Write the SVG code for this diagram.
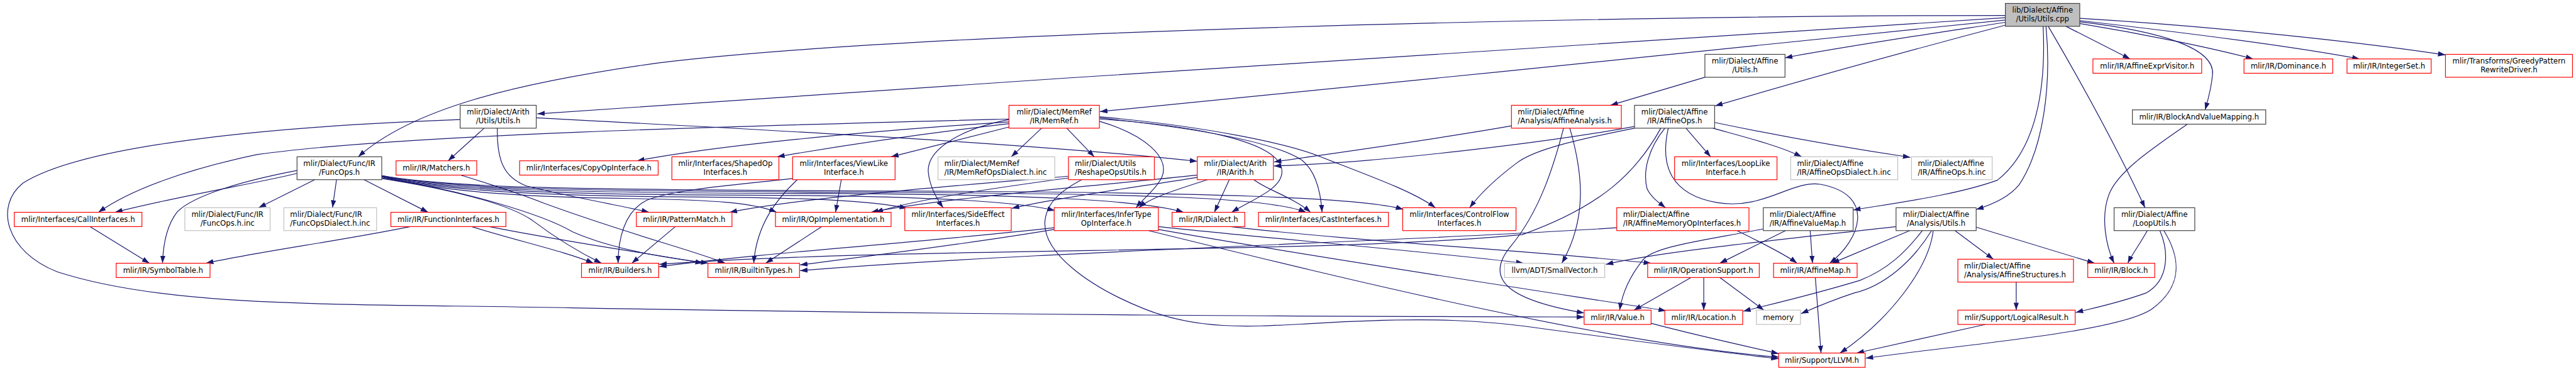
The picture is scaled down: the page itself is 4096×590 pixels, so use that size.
<svg xmlns="http://www.w3.org/2000/svg" width="4096" height="590" viewBox="0 0 4096 590">
<style>
.nd rect{fill:#fff;stroke-width:1.3}
.b rect{stroke:#404040}
.r rect{stroke:#ff0000}
.g rect{stroke:#bfbfbf}
.root rect{fill:#bfbfbf;stroke:#404040}
text{font-family:"DejaVu Sans",sans-serif;font-size:12.9px;fill:#000}
.c{text-anchor:middle}
#edges path{fill:none;stroke:#191970;stroke-width:1.3;marker-end:url(#a)}
</style>
<defs><marker id="a" markerUnits="userSpaceOnUse" markerWidth="14" markerHeight="10" refX="13" refY="5" orient="auto"><path d="M0,0.5 L13,5 L0,9.5 z" fill="#191970"/></marker></defs>
<rect width="4096" height="590" fill="#fff"/>
<g transform="scale(0.91)">
<g id="edges">
<path d="M3504,27 C2800,27 1600,55 1150,110 C900,145 720,190 626,274"/>
<path d="M3504,31 C3000,60 1800,140 939,199"/>
<path d="M3504,35 C3100,75 2400,150 1922,195"/>
<path d="M3504,39 C3380,58 3230,80 3119,101"/>
<path d="M3504,44 C3330,90 3150,140 2997,185"/>
<path d="M3610,46 L3722,103"/>
<path d="M3634,41 C3750,60 3870,85 3937,103"/>
<path d="M3634,36 C3800,55 4000,80 4123,103"/>
<path d="M3634,32 C3850,45 4100,70 4273,96"/>
<path d="M3634,38 C3780,55 3870,85 3866,130 C3864,155 3858,175 3853,192"/>
<path d="M3579,46 C3640,150 3700,260 3748,363"/>
<path d="M3570,46 C3575,150 3560,260 3490,315 C3420,340 3330,352 3238,367"/>
<path d="M3575,46 C3585,150 3570,260 3528,323 C3510,345 3480,358 3453,366"/>
<path d="M2979,135 L2814,184"/>
<path d="M2641,220 C2500,245 2300,272 2226,283"/>
<path d="M2732,224 C2715,290 2690,370 2640,430 C2590,490 2640,525 2768,547"/>
<path d="M2743,224 C2765,300 2775,380 2729,460"/>
<path d="M2856,221 C2700,250 2400,285 2226,290"/>
<path d="M2856,224 C2750,245 2680,262 2650,285 C2610,315 2585,340 2568,363"/>
<path d="M2902,224 C2860,300 2800,360 2660,410 C2300,445 1600,430 1152,462"/>
<path d="M2909,224 C2880,260 2870,300 2878,330 C2885,345 2900,355 2910,363"/>
<path d="M2915,224 C2900,290 2920,340 3000,354 C3080,368 3130,315 3180,322 C3280,340 3250,420 3197,460"/>
<path d="M2946,224 L2989,274"/>
<path d="M2993,224 C3050,240 3110,255 3148,274"/>
<path d="M2996,214 C3120,240 3250,262 3338,275"/>
<path d="M846,224 L783,281"/>
<path d="M869,224 C868,280 880,310 920,325 C1000,345 1080,358 1134,371"/>
<path d="M937,206 C1300,225 1800,250 2092,282"/>
<path d="M804,209 C500,220 150,250 40,320 C-10,360 10,440 100,475 C300,540 600,530 1000,538 C1800,552 2400,553 2768,554"/>
<path d="M1763,208 C1300,220 700,235 450,270 C330,295 230,330 172,371"/>
<path d="M1763,213 C1500,230 1250,255 1113,281"/>
<path d="M1763,216 C1600,235 1450,258 1358,274"/>
<path d="M1763,222 L1557,274"/>
<path d="M1763,209 C1680,225 1620,260 1622,300 C1624,325 1635,345 1648,363"/>
<path d="M1820,224 L1767,274"/>
<path d="M1864,224 L1912,274"/>
<path d="M1921,212 C2000,235 2045,275 2030,310 C2020,330 2000,345 1985,363"/>
<path d="M1921,208 C2100,220 2240,250 2240,300 C2240,330 2190,348 2152,371"/>
<path d="M1921,206 C2100,225 2230,250 2275,280 C2300,300 2308,340 2310,371"/>
<path d="M1921,204 C2100,220 2250,250 2310,275 C2400,310 2470,335 2508,363"/>
<path d="M519,303 C450,320 300,345 201,371"/>
<path d="M519,298 C430,315 340,340 310,370 C290,395 285,430 284,460"/>
<path d="M550,314 L452,363"/>
<path d="M588,314 L581,363"/>
<path d="M636,314 L748,371"/>
<path d="M667,312 C750,325 880,350 930,385 C970,415 1010,440 1051,460"/>
<path d="M667,311 C800,330 950,375 1000,405 C1080,440 1180,452 1238,460"/>
<path d="M667,309 C780,338 950,345 1100,347 C1250,349 1320,355 1357,371"/>
<path d="M667,309 C780,336 1000,343 1200,344 C1400,345 1520,350 1585,364"/>
<path d="M667,308 C780,334 1000,340 1300,341 C1600,342 1780,352 1843,368"/>
<path d="M667,308 C780,332 1000,337 1400,338 C1800,339 2000,350 2068,371"/>
<path d="M667,307 C780,330 1000,334 1500,336 C2000,338 2220,345 2282,371"/>
<path d="M667,307 C780,328 1000,332 1600,334 C2100,336 2380,345 2452,366"/>
<path d="M157,396 L261,460"/>
<path d="M717,396 C600,420 450,440 360,460"/>
<path d="M824,396 C900,420 990,440 1037,460"/>
<path d="M855,396 C1000,425 1150,445 1228,460"/>
<path d="M805,306 C850,320 900,335 950,355 C1100,410 1220,440 1267,460"/>
<path d="M1180,396 L1104,460"/>
<path d="M1436,396 L1338,460"/>
<path d="M1393,314 C1360,345 1322,390 1317,460"/>
<path d="M1470,314 L1460,371"/>
<path d="M1385,312 C1300,322 1180,330 1130,350 C1090,370 1080,420 1080,460"/>
<path d="M1867,308 C1700,322 1400,345 1275,371"/>
<path d="M1867,311 C1750,327 1600,348 1530,371"/>
<path d="M1890,314 C1860,330 1830,350 1826,385 C1820,440 1900,500 2000,540 C2100,580 2200,570 2300,565 C2500,553 2600,560 2700,575 C2850,595 3000,615 3108,627"/>
<path d="M2092,306 C1950,322 1650,345 1522,371"/>
<path d="M2092,310 C2000,325 1850,345 1768,364"/>
<path d="M2110,314 C2060,330 2010,345 1990,363"/>
<path d="M2148,314 L2122,371"/>
<path d="M2191,314 C2210,330 2260,345 2290,371"/>
<path d="M1842,398 C1600,425 1350,440 1152,466"/>
<path d="M1842,401 C1700,425 1500,450 1398,463"/>
<path d="M2825,398 C2500,420 1800,440 1398,473"/>
<path d="M2024,396 C2200,415 2500,440 2662,460"/>
<path d="M2024,401 C2300,450 2700,510 2911,543"/>
<path d="M2007,403 C2300,475 2800,600 3108,624"/>
<path d="M2150,396 C2350,420 2700,440 2885,460"/>
<path d="M3035,403 C3080,425 3120,445 3140,460"/>
<path d="M3081,400 C2980,420 2890,430 2870,455 C2850,480 2835,510 2830,542"/>
<path d="M3120,403 L3005,460"/>
<path d="M3163,403 L3167,460"/>
<path d="M3313,396 C3100,420 2900,440 2806,462"/>
<path d="M3337,403 L3201,460"/>
<path d="M3359,403 C3330,440 3300,470 3250,490 C3150,520 3080,535 3046,544"/>
<path d="M3375,403 C3340,460 3290,500 3240,512 C3200,525 3170,538 3147,548"/>
<path d="M3378,403 C3370,470 3300,560 3215,617"/>
<path d="M3416,403 L3483,453"/>
<path d="M3453,397 L3660,460"/>
<path d="M3523,493 L3523,542"/>
<path d="M3469,567 L3244,617"/>
<path d="M3172,485 L3182,617"/>
<path d="M2885,565 C2960,585 3050,605 3108,618"/>
<path d="M2955,485 L2855,542"/>
<path d="M2977,485 L2977,542"/>
<path d="M3005,485 L3082,542"/>
<path d="M3752,403 C3740,425 3725,445 3718,460"/>
<path d="M3774,403 C3790,440 3790,490 3750,512 C3700,530 3660,538 3627,546"/>
<path d="M3781,403 C3810,450 3815,500 3760,540 C3700,580 3450,600 3260,626"/>
<path d="M3822,217 C3760,260 3700,300 3685,340 C3670,380 3680,430 3694,460"/>
</g>
<g id="n_root" class="nd root"><rect x="3504" y="6" width="130" height="40"/><text class="c" x="3569" y="22.5">lib/Dialect/Affine</text><text class="c" x="3569" y="37.5">/Utils/Utils.cpp</text></g>
<g id="n_affUtils" class="nd b"><rect x="2979" y="95" width="140" height="40"/><text class="c" x="3049" y="111.5">mlir/Dialect/Affine</text><text class="c" x="3049" y="126.5">/Utils.h</text></g>
<g id="n_exprVis" class="nd r"><rect x="3657" y="103" width="190" height="25"/><text class="c" x="3752" y="120">mlir/IR/AffineExprVisitor.h</text></g>
<g id="n_dominance" class="nd r"><rect x="3921" y="103" width="155" height="25"/><text class="c" x="3998.5" y="120">mlir/IR/Dominance.h</text></g>
<g id="n_intset" class="nd r"><rect x="4101" y="103" width="147" height="25"/><text class="c" x="4174.5" y="120">mlir/IR/IntegerSet.h</text></g>
<g id="n_greedy" class="nd r"><rect x="4273" y="95" width="222" height="40"/><text class="c" x="4384" y="111.5">mlir/Transforms/GreedyPattern</text><text class="c" x="4384" y="126.5">RewriteDriver.h</text></g>
<g id="n_arithUtils" class="nd b"><rect x="804" y="184" width="133" height="40"/><text class="c" x="870.5" y="200.5">mlir/Dialect/Arith</text><text class="c" x="870.5" y="215.5">/Utils/Utils.h</text></g>
<g id="n_memref" class="nd r"><rect x="1763" y="184" width="158" height="40"/><text class="c" x="1842" y="200.5">mlir/Dialect/MemRef</text><text class="c" x="1842" y="215.5">/IR/MemRef.h</text></g>
<g id="n_affAnalysis" class="nd r"><rect x="2641" y="184" width="192" height="40"/><text x="2652" y="200.5">mlir/Dialect/Affine</text><text x="2652" y="215.5">/Analysis/AffineAnalysis.h</text></g>
<g id="n_affOps" class="nd b"><rect x="2856" y="184" width="140" height="40"/><text class="c" x="2926" y="200.5">mlir/Dialect/Affine</text><text class="c" x="2926" y="215.5">/IR/AffineOps.h</text></g>
<g id="n_bvm" class="nd b"><rect x="3726" y="192" width="233" height="25"/><text class="c" x="3842.5" y="209">mlir/IR/BlockAndValueMapping.h</text></g>
<g id="n_funcOps" class="nd b"><rect x="519" y="274" width="148" height="40"/><text class="c" x="593" y="290.5">mlir/Dialect/Func/IR</text><text class="c" x="593" y="305.5">/FuncOps.h</text></g>
<g id="n_matchers" class="nd r"><rect x="692" y="281" width="141" height="25"/><text class="c" x="762.5" y="298">mlir/IR/Matchers.h</text></g>
<g id="n_copyOp" class="nd r"><rect x="908" y="281" width="242" height="25"/><text class="c" x="1029" y="298">mlir/Interfaces/CopyOpInterface.h</text></g>
<g id="n_shapedOp" class="nd r"><rect x="1174" y="274" width="187" height="40"/><text class="c" x="1267.5" y="290.5">mlir/Interfaces/ShapedOp</text><text class="c" x="1267.5" y="305.5">Interfaces.h</text></g>
<g id="n_viewLike" class="nd r"><rect x="1385" y="274" width="179" height="40"/><text class="c" x="1474.5" y="290.5">mlir/Interfaces/ViewLike</text><text class="c" x="1474.5" y="305.5">Interface.h</text></g>
<g id="n_memrefDialectInc" class="nd g"><rect x="1639" y="274" width="204" height="40"/><text x="1650" y="290.5">mlir/Dialect/MemRef</text><text x="1650" y="305.5">/IR/MemRefOpsDialect.h.inc</text></g>
<g id="n_reshape" class="nd r"><rect x="1867" y="274" width="150" height="40"/><text x="1878" y="290.5">mlir/Dialect/Utils</text><text x="1878" y="305.5">/ReshapeOpsUtils.h</text></g>
<g id="n_arith" class="nd r"><rect x="2092" y="274" width="133" height="40"/><text class="c" x="2158.5" y="290.5">mlir/Dialect/Arith</text><text class="c" x="2158.5" y="305.5">/IR/Arith.h</text></g>
<g id="n_loopLike" class="nd r"><rect x="2926" y="274" width="179" height="40"/><text class="c" x="3015.5" y="290.5">mlir/Interfaces/LoopLike</text><text class="c" x="3015.5" y="305.5">Interface.h</text></g>
<g id="n_affDialectInc" class="nd g"><rect x="3129" y="274" width="187" height="40"/><text x="3140" y="290.5">mlir/Dialect/Affine</text><text x="3140" y="305.5">/IR/AffineOpsDialect.h.inc</text></g>
<g id="n_affOpsInc" class="nd g"><rect x="3340" y="274" width="141" height="40"/><text x="3351" y="290.5">mlir/Dialect/Affine</text><text x="3351" y="305.5">/IR/AffineOps.h.inc</text></g>
<g id="n_callIf" class="nd r"><rect x="25" y="371" width="223" height="25"/><text class="c" x="136.5" y="388">mlir/Interfaces/CallInterfaces.h</text></g>
<g id="n_funcOpsInc" class="nd g"><rect x="323" y="363" width="149" height="40"/><text class="c" x="397.5" y="379.5">mlir/Dialect/Func/IR</text><text class="c" x="397.5" y="394.5">/FuncOps.h.inc</text></g>
<g id="n_funcDialectInc" class="nd g"><rect x="496" y="363" width="162" height="40"/><text x="507" y="379.5">mlir/Dialect/Func/IR</text><text x="507" y="394.5">/FuncOpsDialect.h.inc</text></g>
<g id="n_funcIf" class="nd r"><rect x="683" y="371" width="201" height="25"/><text class="c" x="783.5" y="388">mlir/IR/FunctionInterfaces.h</text></g>
<g id="n_patternMatch" class="nd r"><rect x="1112" y="371" width="167" height="25"/><text class="c" x="1195.5" y="388">mlir/IR/PatternMatch.h</text></g>
<g id="n_opImpl" class="nd r"><rect x="1355" y="371" width="202" height="25"/><text class="c" x="1456" y="388">mlir/IR/OpImplementation.h</text></g>
<g id="n_sideEffect" class="nd r"><rect x="1581" y="363" width="186" height="40"/><text class="c" x="1674" y="379.5">mlir/Interfaces/SideEffect</text><text class="c" x="1674" y="394.5">Interfaces.h</text></g>
<g id="n_inferType" class="nd r"><rect x="1842" y="363" width="182" height="40"/><text class="c" x="1933" y="379.5">mlir/Interfaces/InferType</text><text class="c" x="1933" y="394.5">OpInterface.h</text></g>
<g id="n_dialect" class="nd r"><rect x="2048" y="371" width="127" height="25"/><text class="c" x="2111.5" y="388">mlir/IR/Dialect.h</text></g>
<g id="n_castIf" class="nd r"><rect x="2199" y="371" width="227" height="25"/><text class="c" x="2312.5" y="388">mlir/Interfaces/CastInterfaces.h</text></g>
<g id="n_controlFlow" class="nd r"><rect x="2451" y="363" width="198" height="40"/><text class="c" x="2550" y="379.5">mlir/Interfaces/ControlFlow</text><text class="c" x="2550" y="394.5">Interfaces.h</text></g>
<g id="n_affMemOp" class="nd r"><rect x="2825" y="363" width="231" height="40"/><text x="2836" y="379.5">mlir/Dialect/Affine</text><text x="2836" y="394.5">/IR/AffineMemoryOpInterfaces.h</text></g>
<g id="n_affValueMap" class="nd b"><rect x="3081" y="363" width="157" height="40"/><text x="3092" y="379.5">mlir/Dialect/Affine</text><text x="3092" y="394.5">/IR/AffineValueMap.h</text></g>
<g id="n_anaUtils" class="nd b"><rect x="3313" y="363" width="140" height="40"/><text class="c" x="3383" y="379.5">mlir/Dialect/Affine</text><text class="c" x="3383" y="394.5">/Analysis/Utils.h</text></g>
<g id="n_loopUtils" class="nd b"><rect x="3694" y="363" width="141" height="40"/><text class="c" x="3764.5" y="379.5">mlir/Dialect/Affine</text><text class="c" x="3764.5" y="394.5">/LoopUtils.h</text></g>
<g id="n_symbolTable" class="nd r"><rect x="203" y="460" width="164" height="25"/><text class="c" x="285" y="477">mlir/IR/SymbolTable.h</text></g>
<g id="n_builders" class="nd r"><rect x="1016" y="460" width="135" height="25"/><text class="c" x="1083.5" y="477">mlir/IR/Builders.h</text></g>
<g id="n_builtinTypes" class="nd r"><rect x="1237" y="460" width="160" height="25"/><text class="c" x="1317" y="477">mlir/IR/BuiltinTypes.h</text></g>
<g id="n_smallVector" class="nd g"><rect x="2629" y="460" width="175" height="25"/><text class="c" x="2716.5" y="477">llvm/ADT/SmallVector.h</text></g>
<g id="n_opSupport" class="nd r"><rect x="2879" y="460" width="195" height="25"/><text class="c" x="2976.5" y="477">mlir/IR/OperationSupport.h</text></g>
<g id="n_affineMap" class="nd r"><rect x="3099" y="460" width="146" height="25"/><text class="c" x="3172" y="477">mlir/IR/AffineMap.h</text></g>
<g id="n_affStruct" class="nd r"><rect x="3421" y="453" width="202" height="40"/><text x="3432" y="469.5">mlir/Dialect/Affine</text><text x="3432" y="484.5">/Analysis/AffineStructures.h</text></g>
<g id="n_block" class="nd r"><rect x="3648" y="460" width="117" height="25"/><text class="c" x="3706.5" y="477">mlir/IR/Block.h</text></g>
<g id="n_value" class="nd r"><rect x="2768" y="542" width="117" height="25"/><text class="c" x="2826.5" y="559">mlir/IR/Value.h</text></g>
<g id="n_location" class="nd r"><rect x="2909" y="542" width="136" height="25"/><text class="c" x="2977" y="559">mlir/IR/Location.h</text></g>
<g id="n_memory" class="nd g"><rect x="3069" y="542" width="77" height="25"/><text class="c" x="3107.5" y="559">memory</text></g>
<g id="n_logicalResult" class="nd r"><rect x="3421" y="542" width="205" height="25"/><text class="c" x="3523.5" y="559">mlir/Support/LogicalResult.h</text></g>
<g id="n_llvm" class="nd r"><rect x="3108" y="617" width="151" height="25"/><text class="c" x="3183.5" y="634">mlir/Support/LLVM.h</text></g>
</g>
</svg>
